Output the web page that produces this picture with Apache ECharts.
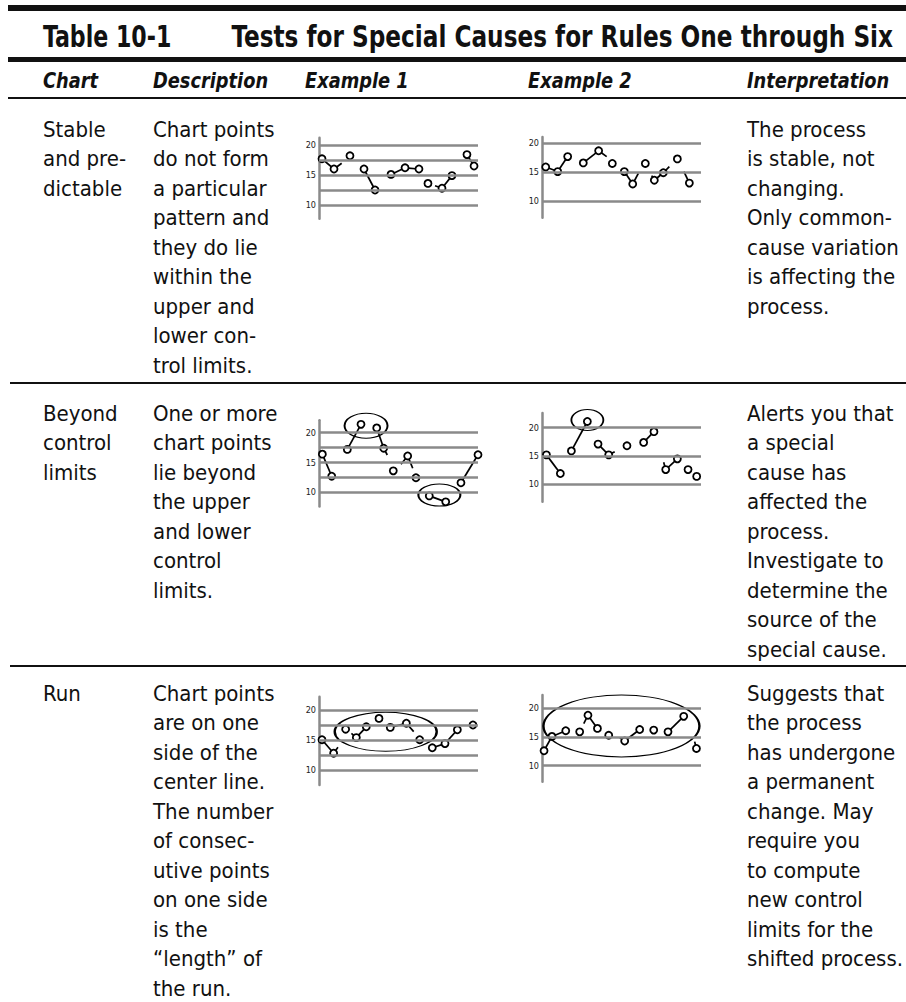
<!DOCTYPE html>
<html><head><meta charset="utf-8">
<script src="https://cdn.jsdelivr.net/npm/echarts@6/dist/echarts.min.js"></script>
<style>html,body{margin:0;padding:0;background:#fff}#c{width:906px;height:1002px}</style>
</head><body><div id="c"></div>
<script>
// ---------- DATA ----------
const yTickLabels = [10, 15, 20];
const limitLines5 = [10, 12.5, 15, 17.5, 20];
const limitLines3 = [10, 15, 20];

// Row 1: Stable and predictable
const stableEx1X = [0.25,1.25,2.58,3.75,4.67,6.0,7.17,8.33,9.08,10.25,11.08,12.33,12.92];
const stableEx1Y = [17.7,16.0,18.2,16.0,12.5,15.1,16.2,16.0,13.6,12.8,14.9,18.4,16.5];
const stableEx1Links = [[0,1],[3,4],[5,6],[6,7],[9,10],[11,12]];
const stableEx1Stubs = [[1.25,16.0,1.89,16.95],[9.67,13.2,10.25,12.8]];
const stableEx1Rings = [];

const stableEx2X = [0.31,1.31,2.14,3.44,4.72,5.86,6.86,7.56,8.61,9.36,10.11,11.28,12.28];
const stableEx2Y = [15.9,15.1,17.7,16.6,18.7,16.5,15.1,12.95,16.5,13.6,14.9,17.3,13.1];
const stableEx2Links = [[0,1],[1,2],[3,4],[6,7],[9,10]];
const stableEx2Stubs = [[4.72,18.7,5.39,17.68],[7.56,12.95,8.03,14.8],[9.14,14.4,9.36,13.6],[10.11,14.9,10.61,15.95],[11.83,15.1,12.28,13.1]];
const stableEx2Rings = [];

// Row 2: Beyond control limits
const beyondEx1X = [0.28,1.06,2.36,3.5,4.81,5.39,6.19,7.39,8.08,9.19,10.56,11.83,13.25];
const beyondEx1Y = [16.4,12.7,17.2,21.4,20.8,17.4,13.6,16.1,12.45,9.4,8.4,11.6,16.3];
const beyondEx1Links = [[0,1],[2,3],[4,5],[9,10],[11,12]];
const beyondEx1Stubs = [[5.39,17.4,5.69,16.26],[6.83,14.7,7.39,16.1],[7.39,16.1,7.81,14.03]];
const beyondEx1Rings = [[3.92,21.17],[10.03,9.55]];

const beyondEx2X = [0.37,1.53,2.45,3.78,4.67,5.56,7.08,8.47,9.33,10.31,11.28,12.17,12.89];
const beyondEx2Y = [15.2,11.9,15.9,21.1,17.1,15.2,16.8,17.4,19.3,12.6,14.5,12.6,11.4];
const beyondEx2Links = [[0,1],[2,3],[4,5],[7,8],[9,10]];
const beyondEx2Stubs = [[5.56,15.2,6.06,15.76],[10.14,13.9,10.31,12.6]];
const beyondEx2Rings = [[3.78,21.36]];

// Row 3: Run
const runEx1X = [0.25,1.22,2.22,3.11,3.94,5.0,5.94,7.28,8.39,9.44,10.5,11.53,12.83];
const runEx1Y = [15.05,12.8,16.8,15.4,17.2,18.6,17.1,17.8,15.05,13.7,14.4,16.7,17.5];
const runEx1Links = [[0,1],[3,4],[6,7],[9,10],[10,11]];
const runEx1Stubs = [[1.22,12.8,1.58,13.78],[2.7,16.1,3.11,15.4],[7.28,17.8,7.89,16.4]];
const runEx1Rings = [[5.56,16.38]];

const runEx2X = [0.17,0.83,1.98,3.14,3.83,4.62,5.56,6.89,8.14,9.31,10.5,11.81,12.87];
const runEx2Y = [12.6,15.1,16.1,15.9,18.8,16.5,15.3,14.3,16.3,16.2,15.9,18.6,13.0];
const runEx2Links = [[0,1],[1,2],[4,5],[7,8],[10,11]];
const runEx2Stubs = [[3.48,17.33,3.83,18.8],[6.48,14.9,6.89,14.3],[12.72,14.2,12.87,13.0]];
const runEx2Rings = [[6.62,16.92]];

// Table text
const tableNumber = 'Table 10-1';
const tableTitle = 'Tests for Special Causes for Rules One through Six';
const columnHeads = ['Chart', 'Description', 'Example 1', 'Example 2', 'Interpretation'];
const rowNames = [
  ['Stable', 'and pre-', 'dictable'],
  ['Beyond', 'control', 'limits'],
  ['Run']
];
const rowDescriptions = [
  ['Chart points','do not form','a particular','pattern and','they do lie','within the','upper and','lower con-','trol limits.'],
  ['One or more','chart points','lie beyond','the upper','and lower','control','limits.'],
  ['Chart points','are on one','side of the','center line.','The number','of consec-','utive points','on one side','is the','\u201Clength\u201D of','the run.']
];
const rowInterpretations = [
  ['The process','is stable, not','changing.','Only common-','cause variation','is affecting the','process.'],
  ['Alerts you that','a special','cause has','affected the','process.','Investigate to','determine the','source of the','special cause.'],
  ['Suggests that','the process','has undergone','a permanent','change. May','require you','to compute','new control','limits for the','shifted process.']
];

// ---------- LAYOUT / STYLE ----------
const FONT = "'DejaVu Sans Condensed','Liberation Sans Narrow','DejaVu Sans',sans-serif";
const charts = [
  {xs:stableEx1X, ys:stableEx1Y, links:stableEx1Links, stubs:stableEx1Stubs, rings:stableEx1Rings, lines:limitLines5, ringSize:[],
   left:319, y20:145, ppu:6.0, yMin:7.7, yMax:21.2},
  {xs:stableEx2X, ys:stableEx2Y, links:stableEx2Links, stubs:stableEx2Stubs, rings:stableEx2Rings, lines:limitLines3, ringSize:[],
   left:542, y20:143.3, ppu:5.77, yMin:7.1, yMax:21.1},
  {xs:beyondEx1X, ys:beyondEx1Y, links:beyondEx1Links, stubs:beyondEx1Stubs, rings:beyondEx1Rings, lines:limitLines5, ringSize:[[43,25],[42,22]],
   left:319, y20:432.7, ppu:5.96, yMin:7.6, yMax:22.1},
  {xs:beyondEx2X, ys:beyondEx2Y, links:beyondEx2Links, stubs:beyondEx2Stubs, rings:beyondEx2Rings, lines:limitLines3, ringSize:[[32,21]],
   left:542, y20:427.7, ppu:5.66, yMin:6.9, yMax:22.6},
  {xs:runEx1X, ys:runEx1Y, links:runEx1Links, stubs:runEx1Stubs, rings:runEx1Rings, lines:limitLines5, ringSize:[[102,39]],
   left:319, y20:710, ppu:6.0, yMin:7.5, yMax:22.2},
  {xs:runEx2X, ys:runEx2Y, links:runEx2Links, stubs:runEx2Stubs, rings:runEx2Rings, lines:limitLines3, ringSize:[[156,62]],
   left:542, y20:708.3, ppu:5.74, yMin:7.2, yMax:22.3}
];
const X_MAX = 13.25, GRID_W = 159;
const GRAY = '#8a8a8a';
const ELLIPSE = 'path://M0,50 A50,50 0 1,1 100,50 A50,50 0 1,1 0,50 Z';

const grid = [], xAxis = [], yAxis = [], series = [];
charts.forEach((c, i) => {
  grid.push({left:c.left, top:c.y20 - (c.yMax - 20) * c.ppu, width:GRID_W, height:(c.yMax - c.yMin) * c.ppu});
  xAxis.push({type:'value', gridIndex:i, min:0, max:X_MAX, show:false});
  yAxis.push({type:'value', gridIndex:i, min:c.yMin, max:c.yMax,
    axisLine:{show:true, onZero:false, lineStyle:{color:GRAY, width:2.5}},
    axisTick:{show:false}, splitLine:{show:false},
    axisLabel:{customValues:yTickLabels, fontSize:9, color:'#222', margin:3, fontFamily:FONT}});
  const pts = c.xs.map((x, k) => [x, c.ys[k]]);
  series.push({type:'line', xAxisIndex:i, yAxisIndex:i, data:pts, symbol:'none', lineStyle:{width:0, opacity:0}, silent:true, z:1,
    markLine:{silent:true, symbol:['none','none'], label:{show:false}, animation:false,
      lineStyle:{color:GRAY, width:2.5, type:'solid'}, emphasis:{disabled:true},
      data:c.lines.map(v => ({yAxis:v}))}});
  const segs = c.links.map(([a, b]) => ({coords:[pts[a], pts[b]]}))
    .concat(c.stubs.map(s => ({coords:[[s[0], s[1]], [s[2], s[3]]]})));
  series.push({type:'lines', coordinateSystem:'cartesian2d', xAxisIndex:i, yAxisIndex:i, data:segs, silent:true, z:2,
    lineStyle:{color:'#000', width:1.7, opacity:1, curveness:0}});
  series.push({type:'scatter', xAxisIndex:i, yAxisIndex:i, data:pts, symbol:'circle', symbolSize:7, silent:true, z:3,
    itemStyle:{color:'#fff', borderColor:'#000', borderWidth:1.8, opacity:1}});
  if (c.rings.length) {
    series.push({type:'scatter', xAxisIndex:i, yAxisIndex:i, silent:true, z:4,
      data:c.rings.map((r, k) => ({value:r, symbolSize:c.ringSize[k]})),
      symbol:ELLIPSE, itemStyle:{color:'rgba(0,0,0,0)', borderColor:'#000', borderWidth:1.5, opacity:1}});
  }
});

// table graphics
const LH = 29.5;
const graphic = [];
function txt(x, y, lines, opts, sx) {
  graphic.push({type:'text', x:x, y:y, scaleX:sx || 1, silent:true, style:Object.assign({
    text:lines.join('\n'), fontFamily:FONT, fontSize:22, fill:'#111', lineHeight:LH,
    verticalAlign:'top', align:'left'}, opts || {})});
}
function bar(x, y, w, h) {
  graphic.push({type:'rect', silent:true, shape:{x:x, y:y, width:w, height:h}, style:{fill:'#111'}});
}
bar(8, 5, 898, 6);
txt(43, 37 - 18, [tableNumber], {fontSize:30, fontWeight:'bold', lineHeight:36}, 0.82);
txt(893, 37 - 18, [tableTitle], {fontSize:30, fontWeight:'bold', lineHeight:36, align:'right'}, 0.86);
bar(8, 57, 898, 5);
const headX = [43, 153, 305, 528, 747];
columnHeads.forEach((h, k) => txt(headX[k], 81 - 14, [h], {fontSize:22, fontWeight:'bold', fontStyle:'italic', lineHeight:28}, 0.9));
bar(8, 97, 898, 2);
const rowTop = [129, 413, 693];
rowTop.forEach((t, r) => {
  txt(43, t - LH / 2, rowNames[r]);
  txt(153, t - LH / 2, rowDescriptions[r]);
  txt(747, t - LH / 2, rowInterpretations[r]);
});
bar(10, 382, 896, 2);
bar(10, 665, 896, 2);

const chart = echarts.init(document.getElementById('c'), null, {renderer:'svg', width:906, height:1002});
chart.setOption({animation:false, backgroundColor:'#fff', grid, xAxis, yAxis, series, graphic});
</script></body></html>
